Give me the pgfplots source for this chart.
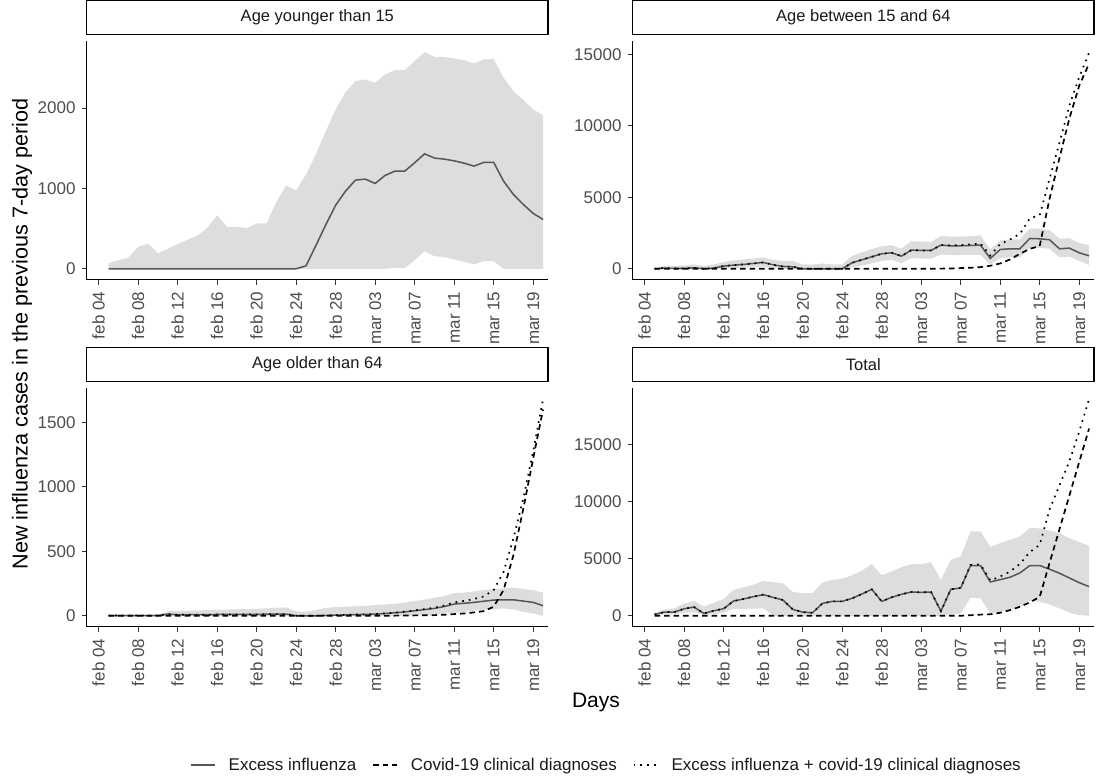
\documentclass[border=0pt]{standalone}
\usepackage{pgfplots}
\pgfplotsset{compat=1.18}
\usepackage{pgfplotstable}
\usepgfplotslibrary{fillbetween}
\usepackage{fontspec}
\setmainfont{Liberation Sans}

\definecolor{bandgray}{RGB}{221,221,221}
\definecolor{fitgray}{RGB}{85,85,85}
\definecolor{grey30}{RGB}{77,77,77}
\definecolor{grey20}{RGB}{51,51,51}
\definecolor{grey10}{RGB}{26,26,26}

\newcommand{\ticksize}{\fontsize{17pt}{19pt}\selectfont}
\newcommand{\stripsize}{\fontsize{16.5pt}{19pt}\selectfont}
\newcommand{\titlesize}{\fontsize{21pt}{23pt}\selectfont}
\newcommand{\ylabsize}{\fontsize{21.6pt}{23pt}\selectfont}

\pgfplotstableread{
d hi lo fit
5 66 0 0
6 108 0 0
7 137 0 0
8 274 0 0
9 311 0 0
10 191 0 0
11 249 0 0
12 307 0 0
13 361 0 0
14 411 0 0
15 510 0 0
16 668 0 0
17 519 0 0
18 523 0 0
19 506 0 0
20 564 0 0
21 564 0 0
22 834 0 0
23 1037 0 0
24 975 0 0
25 1174 0 37
26 1423 0 290
27 1714 0 548
28 1983 0 792
29 2199 0 967
30 2336 0 1104
31 2357 0 1116
32 2315 0 1062
33 2419 0 1162
34 2473 8 1216
35 2473 8 1216
36 2585 108 1320
37 2697 216 1431
38 2639 158 1378
39 2635 145 1365
40 2618 116 1344
41 2598 87 1315
42 2556 54 1278
43 2606 95 1324
44 2610 95 1324
45 2378 0 1091
46 2212 0 925
47 2100 0 801
48 1983 0 689
49 1913 0 614
}\tabA

\pgfplotstableread{
d hi lo fit cov tot
5 50 0 0 0 0
6 230 0 47 0 47
7 200 0 20 0 20
8 230 0 20 0 20
9 300 0 70 0 70
10 200 0 0 0 0
11 300 0 47 0 47
12 480 20 186 0 186
13 580 60 256 0 256
14 650 80 303 0 303
15 720 100 373 0 373
16 800 116 443 0 443
17 620 40 280 0 280
18 560 0 163 0 163
19 560 0 140 0 140
20 300 0 0 0 0
21 300 0 0 0 0
22 370 0 0 0 0
23 300 0 0 0 0
24 300 0 0 0 0
25 900 100 419 0 419
26 1150 230 629 0 629
27 1380 380 839 0 839
28 1580 550 1048 0 1048
29 1650 620 1118 0 1118
30 1400 400 885 0 885
31 1930 750 1304 0 1304
32 1900 720 1281 0 1281
33 1880 700 1281 0 1281
34 2300 1000 1654 10 1664
35 2250 960 1607 20 1627
36 2250 960 1607 47 1654
37 2280 980 1630 70 1700
38 2330 980 1654 116 1770
39 1350 300 722 210 932
40 1980 750 1351 373 1724
41 2050 800 1398 652 2050
42 2050 800 1398 1048 2446
43 2800 1450 2120 1398 3518
44 2800 1450 2096 1584 3750
45 2700 1400 2027 4900 6300
46 2100 800 1398 7750 8800
47 2150 850 1444 10500 11400
48 1800 550 1118 12800 13400
49 1650 250 908 14350 15100
}\tabB

\pgfplotstableread{
d hi lo fit cov tot
5 8 0 2 0 2
6 8 0 2 0 2
7 8 0 2 0 2
8 8 0 2 0 2
9 8 0 2 0 2
10 8 0 2 0 2
11 34 0 13 0 13
12 39 0 8 0 8
13 40 0 8 0 8
14 42 0 8 0 8
15 44 0 8 0 8
16 46 0 10 0 10
17 48 0 10 0 10
18 50 0 10 0 10
19 52 0 10 0 10
20 54 0 10 0 10
21 57 0 13 0 13
22 62 0 13 0 13
23 65 0 13 0 13
24 34 0 0 0 0
25 31 0 0 0 0
26 44 0 0 0 0
27 62 0 2 0 2
28 67 0 5 0 5
29 70 0 7 0 7
30 73 0 9 0 9
31 78 0 11 0 11
32 83 0 13 0 13
33 88 0 18 0 18
34 93 0 23 1 24
35 103 0 30 2 32
36 114 0 39 3 42
37 126 5 48 4 52
38 140 10 57 5 62
39 153 16 72 8 80
40 176 23 91 13 104
41 179 31 97 18 115
42 189 39 104 26 130
43 199 44 113 36 150
44 207 49 122 70 200
45 212 57 124 200 340
46 218 49 124 470 600
47 207 31 114 830 910
48 199 18 104 1220 1275
49 179 0 78 1600 1680
}\tabC

\pgfplotstableread{
d hi lo fit cov tot
5 200 50 117 0 117
6 557 120 322 0 322
7 645 130 322 0 322
8 1084 250 615 0 615
9 1289 300 762 0 762
10 791 60 205 0 205
11 1143 150 439 0 439
12 1465 250 615 0 615
13 2256 600 1289 0 1289
14 2490 610 1465 0 1465
15 2725 620 1670 0 1670
16 3047 650 1846 0 1846
17 2959 0 1611 0 1611
18 2842 0 1377 0 1377
19 2080 0 557 0 557
20 1992 0 322 0 322
21 1992 0 264 0 264
22 2900 0 1084 0 1084
23 3135 0 1260 0 1260
24 3252 0 1260 0 1260
25 3545 0 1524 0 1524
26 3955 0 1904 0 1904
27 4512 0 2315 0 2315
28 3545 0 1260 0 1260
29 3867 0 1611 0 1611
30 4248 0 1875 0 1875
31 4512 0 2080 0 2080
32 4512 0 2051 0 2051
33 4688 0 2080 0 2080
34 3135 0 410 0 410
35 4893 50 2315 0 2315
36 5186 205 2432 0 2432
37 7384 1582 4395 50 4445
38 7384 1524 4395 100 4495
39 6006 205 2959 130 3090
40 6358 352 3164 264 3430
41 6651 557 3369 498 3870
42 6944 791 3750 791 4540
43 7677 1318 4395 1172 5570
44 7647 1231 4395 1650 6200
45 7442 996 4073 4620 9300
46 7237 645 3721 7560 11400
47 6797 264 3311 10500 13500
48 6446 59 2900 13440 16100
49 6123 0 2549 16380 18950
}\tabD

\pgfplotsset{
  fitline/.style={color=fitgray, line width=1.5pt, solid},
  dashline/.style={color=black, line width=1.7pt, dash pattern=on 5.5pt off 4pt},
  dotline/.style={color=black, line width=1.7pt, dash pattern=on 1.7pt off 5pt},
  panel/.style={
    scale only axis, width=461.3pt, height=238.3pt, anchor=north west,
    xmin=2.79, xmax=49.5,
    axis x line*=bottom, axis y line*=left,
    axis line style={-, line width=1.3pt, black},
    tick align=outside, major tick length=5pt,
    tick style={line width=1.1pt, color=grey20},
    xtick={4,8,...,48},
    xticklabels={feb 04,feb 08,feb 12,feb 16,feb 20,feb 24,feb 28,mar 03,mar 07,mar 11,mar 15,mar 19},
    xticklabel style={yshift=-5pt, rotate=90, anchor=east, font=\ticksize, text=grey30, inner sep=2pt},
    yticklabel style={xshift=-4pt, font=\ticksize, text=grey30, inner sep=2pt},
    title style={at={(axis description cs:0.5,1)}, anchor=south, yshift=0pt,
      draw=black, line width=1.3pt, fill=white, minimum width=461.3pt,
      minimum height=34pt, inner sep=0pt, font=\stripsize, text=grey10},
    legend image code/.code={\draw[##1] (0pt,0pt) -- (24pt,0pt);},
  },
}

\begin{document}
\begin{tikzpicture}

% Top-left
\begin{axis}[panel, at={(86.7pt,-41pt)},
  ymin=-134.85, ymax=2831.85, ytick={0,1000,2000}, yticklabels={0,1000,2000},
  title={Age younger than 15},
  ylabel={New influenza cases in the previous 7-day period},
  ylabel style={at={(axis description cs:-0.1403,-0.2283)}, anchor=center, font=\ylabsize, text=black},
]
\addplot[name path=hi, draw=none, forget plot] table[x=d,y=hi]{\tabA};
\addplot[name path=lo, draw=none, forget plot] table[x=d,y=lo]{\tabA};
\addplot[bandgray, forget plot] fill between[of=hi and lo];
\addplot[fitline, forget plot] table[x=d,y=fit]{\tabA};
\end{axis}

% Top-right
\begin{axis}[panel, at={(632.7pt,-41pt)},
  ymin=-757.5, ymax=15907.5, ytick={0,5000,10000,15000}, yticklabels={0,5000,10000,15000},
  title={Age between 15 and 64},
]
\addplot[name path=hi, draw=none, forget plot] table[x=d,y=hi]{\tabB};
\addplot[name path=lo, draw=none, forget plot] table[x=d,y=lo]{\tabB};
\addplot[bandgray, forget plot] fill between[of=hi and lo];
\addplot[fitline, forget plot] table[x=d,y=fit]{\tabB};
\addplot[dashline, forget plot] table[x=d,y=cov]{\tabB};
\addplot[dotline, forget plot] table[x=d,y=tot]{\tabB};
\end{axis}

% Bottom-left
\begin{axis}[panel, at={(86.7pt,-388pt)},
  ymin=-84, ymax=1764, ytick={0,500,1000,1500}, yticklabels={0,500,1000,1500},
  title={Age older than 64},
  xlabel={Days},
  xlabel style={at={(axis description cs:1.104,-0.318)}, anchor=center, font=\titlesize, text=black},
  legend style={at={(axis description cs:1.1268,-0.5807)}, anchor=center, draw=none, fill=none,
    font=\ticksize, text=grey10, legend columns=3,
    /tikz/every odd column/.append style={column sep=11pt},
    /tikz/every even column/.append style={column sep=14pt}},
  legend cell align=left,
]
\addplot[name path=hi, draw=none, forget plot] table[x=d,y=hi]{\tabC};
\addplot[name path=lo, draw=none, forget plot] table[x=d,y=lo]{\tabC};
\addplot[bandgray, forget plot] fill between[of=hi and lo];
\addplot[fitline, forget plot] table[x=d,y=fit]{\tabC};
\addplot[dashline, forget plot] table[x=d,y=cov]{\tabC};
\addplot[dotline, forget plot] table[x=d,y=tot]{\tabC};
\addlegendimage{fitline}
\addlegendentry{Excess influenza}
\addlegendimage{dashline}
\addlegendentry{Covid-19 clinical diagnoses}
\addlegendimage{dotline}
\addlegendentry{Excess influenza + covid-19 clinical diagnoses}
\end{axis}

% Bottom-right
\begin{axis}[panel, at={(632.7pt,-388pt)},
  ymin=-947.5, ymax=19897.5, ytick={0,5000,10000,15000}, yticklabels={0,5000,10000,15000},
  title={Total},
]
\addplot[name path=hi, draw=none, forget plot] table[x=d,y=hi]{\tabD};
\addplot[name path=lo, draw=none, forget plot] table[x=d,y=lo]{\tabD};
\addplot[bandgray, forget plot] fill between[of=hi and lo];
\addplot[fitline, forget plot] table[x=d,y=fit]{\tabD};
\addplot[dashline, forget plot] table[x=d,y=cov]{\tabD};
\addplot[dotline, forget plot] table[x=d,y=tot]{\tabD};
\end{axis}

\path (0pt,0pt) rectangle (1105pt,-776pt);
\end{tikzpicture}
\end{document}
